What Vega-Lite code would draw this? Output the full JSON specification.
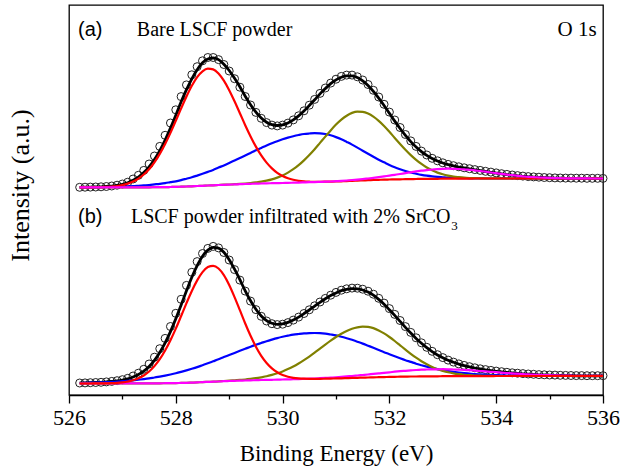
{
  "$schema": "https://vega.github.io/schema/vega-lite/v6.json",
  "width": 534,
  "height": 390,
  "autosize": {"type": "none"},
  "padding": {"left": 69, "top": 5, "right": 18, "bottom": 77},
  "background": "white",
  "config": {
    "view": {"stroke": "#000000", "strokeWidth": 1.3},
    "font": "Liberation Serif, DejaVu Serif, serif"
  },
  "datasets": {
    "spectra": [
      {"p":"a","E":526.2,"r":207.6,"b":207.7,"g":207.6,"m":207.6,"f":207.7,"o":207.7},
      {"p":"a","E":526.3,"r":207.6,"b":207.7,"g":207.6,"m":207.6,"f":207.8,"o":207.8},
      {"p":"a","E":526.4,"r":207.7,"b":207.8,"g":207.6,"m":207.6,"f":207.9,"o":207.9},
      {"p":"a","E":526.5,"r":207.8,"b":207.8,"g":207.6,"m":207.6,"f":208.0,"o":208.0},
      {"p":"a","E":526.6,"r":207.9,"b":207.9,"g":207.6,"m":207.6,"f":208.2,"o":208.2},
      {"p":"a","E":526.7,"r":208.1,"b":208.0,"g":207.6,"m":207.6,"f":208.5,"o":208.5},
      {"p":"a","E":526.8,"r":208.5,"b":208.1,"g":207.6,"m":207.6,"f":208.9,"o":209.0},
      {"p":"a","E":526.9,"r":209.0,"b":208.2,"g":207.6,"m":207.6,"f":209.7,"o":209.8},
      {"p":"a","E":527.0,"r":210.0,"b":208.4,"g":207.6,"m":207.6,"f":210.7,"o":211.0},
      {"p":"a","E":527.1,"r":211.4,"b":208.6,"g":207.6,"m":207.6,"f":212.3,"o":212.8},
      {"p":"a","E":527.2,"r":213.4,"b":208.8,"g":207.6,"m":207.6,"f":214.7,"o":216.0},
      {"p":"a","E":527.3,"r":216.4,"b":209.2,"g":207.7,"m":207.7,"f":217.9,"o":219.7},
      {"p":"a","E":527.4,"r":220.5,"b":209.6,"g":207.7,"m":207.7,"f":222.4,"o":224.6},
      {"p":"a","E":527.5,"r":225.8,"b":210.0,"g":207.7,"m":207.7,"f":228.1,"o":231.0},
      {"p":"a","E":527.6,"r":232.7,"b":210.6,"g":207.8,"m":207.8,"f":235.5,"o":239.0},
      {"p":"a","E":527.7,"r":241.1,"b":211.2,"g":207.9,"m":207.9,"f":244.4,"o":248.6},
      {"p":"a","E":527.8,"r":250.9,"b":211.9,"g":207.9,"m":207.9,"f":254.9,"o":259.7},
      {"p":"a","E":527.9,"r":262.1,"b":212.8,"g":208.0,"m":208.0,"f":266.9,"o":272.0},
      {"p":"a","E":528.0,"r":274.2,"b":213.7,"g":208.1,"m":208.1,"f":279.8,"o":285.2},
      {"p":"a","E":528.1,"r":286.6,"b":214.9,"g":208.3,"m":208.3,"f":293.2,"o":298.4},
      {"p":"a","E":528.2,"r":298.5,"b":216.3,"g":208.5,"m":208.5,"f":305.3,"o":310.1},
      {"p":"a","E":528.3,"r":309.2,"b":217.7,"g":208.7,"m":208.7,"f":316.2,"o":320.2},
      {"p":"a","E":528.4,"r":317.9,"b":219.4,"g":209.0,"m":209.0,"f":325.3,"o":328.3},
      {"p":"a","E":528.5,"r":323.7,"b":221.2,"g":209.2,"m":209.2,"f":332.2,"o":334.2},
      {"p":"a","E":528.6,"r":326.4,"b":223.1,"g":209.5,"m":209.5,"f":336.0,"o":337.5},
      {"p":"a","E":528.7,"r":325.6,"b":225.1,"g":209.7,"m":209.7,"f":337.0,"o":337.5},
      {"p":"a","E":528.8,"r":321.5,"b":227.4,"g":210.0,"m":210.0,"f":335.4,"o":335.4},
      {"p":"a","E":528.9,"r":314.3,"b":229.6,"g":210.3,"m":210.2,"f":330.8,"o":330.5},
      {"p":"a","E":529.0,"r":304.8,"b":232.0,"g":210.5,"m":210.4,"f":324.5,"o":324.0},
      {"p":"a","E":529.1,"r":293.7,"b":234.5,"g":210.8,"m":210.6,"f":316.8,"o":316.3},
      {"p":"a","E":529.2,"r":281.8,"b":237.0,"g":211.1,"m":210.8,"f":308.3,"o":307.8},
      {"p":"a","E":529.3,"r":269.8,"b":239.5,"g":211.5,"m":211.0,"f":298.8,"o":298.5},
      {"p":"a","E":529.4,"r":258.6,"b":242.1,"g":212.0,"m":211.2,"f":290.3,"o":290.0},
      {"p":"a","E":529.5,"r":248.4,"b":244.7,"g":212.6,"m":211.4,"f":282.9,"o":282.6},
      {"p":"a","E":529.6,"r":239.6,"b":247.1,"g":213.3,"m":211.5,"f":277.0,"o":276.7},
      {"p":"a","E":529.7,"r":232.4,"b":249.5,"g":214.3,"m":211.7,"f":272.8,"o":272.4},
      {"p":"a","E":529.8,"r":226.6,"b":251.7,"g":215.6,"m":211.8,"f":270.3,"o":269.9},
      {"p":"a","E":529.9,"r":222.1,"b":253.8,"g":217.4,"m":211.9,"f":269.5,"o":269.1},
      {"p":"a","E":530.0,"r":218.9,"b":255.7,"g":219.6,"m":212.0,"f":270.2,"o":269.9},
      {"p":"a","E":530.1,"r":216.7,"b":257.4,"g":222.4,"m":212.2,"f":272.1,"o":271.9},
      {"p":"a","E":530.2,"r":215.2,"b":258.8,"g":225.8,"m":212.3,"f":275.2,"o":275.1},
      {"p":"a","E":530.3,"r":214.2,"b":260.0,"g":229.8,"m":212.4,"f":279.2,"o":279.2},
      {"p":"a","E":530.4,"r":213.6,"b":261.0,"g":234.6,"m":212.6,"f":284.0,"o":284.2},
      {"p":"a","E":530.5,"r":213.3,"b":261.5,"g":240.0,"m":212.8,"f":289.5,"o":289.8},
      {"p":"a","E":530.6,"r":213.1,"b":261.8,"g":245.8,"m":212.9,"f":295.2,"o":295.6},
      {"p":"a","E":530.7,"r":213.2,"b":261.7,"g":252.1,"m":213.1,"f":301.1,"o":301.6},
      {"p":"a","E":530.8,"r":213.3,"b":261.0,"g":258.4,"m":213.3,"f":306.4,"o":307.0},
      {"p":"a","E":530.9,"r":213.4,"b":259.7,"g":264.6,"m":213.5,"f":311.3,"o":311.9},
      {"p":"a","E":531.0,"r":213.5,"b":257.9,"g":270.4,"m":213.8,"f":315.1,"o":315.8},
      {"p":"a","E":531.1,"r":213.7,"b":255.7,"g":275.4,"m":214.1,"f":317.8,"o":318.6},
      {"p":"a","E":531.2,"r":213.9,"b":253.1,"g":279.3,"m":214.5,"f":319.1,"o":319.9},
      {"p":"a","E":531.3,"r":214.2,"b":250.4,"g":282.1,"m":215.0,"f":319.1,"o":319.9},
      {"p":"a","E":531.4,"r":214.4,"b":247.4,"g":283.4,"m":215.4,"f":317.4,"o":318.2},
      {"p":"a","E":531.5,"r":214.6,"b":244.3,"g":283.1,"m":215.9,"f":314.1,"o":315.0},
      {"p":"a","E":531.6,"r":214.8,"b":241.2,"g":281.4,"m":216.5,"f":309.5,"o":310.5},
      {"p":"a","E":531.7,"r":215.0,"b":238.2,"g":278.3,"m":217.1,"f":303.6,"o":304.7},
      {"p":"a","E":531.8,"r":215.2,"b":235.3,"g":274.1,"m":217.8,"f":296.8,"o":298.0},
      {"p":"a","E":531.9,"r":215.4,"b":232.7,"g":269.0,"m":218.6,"f":289.5,"o":290.7},
      {"p":"a","E":532.0,"r":215.5,"b":230.1,"g":263.2,"m":219.4,"f":281.7,"o":282.9},
      {"p":"a","E":532.1,"r":215.6,"b":227.8,"g":257.1,"m":220.2,"f":273.9,"o":275.0},
      {"p":"a","E":532.2,"r":215.7,"b":225.8,"g":251.1,"m":221.0,"f":266.5,"o":267.5},
      {"p":"a","E":532.3,"r":215.8,"b":224.0,"g":245.3,"m":221.9,"f":259.6,"o":260.5},
      {"p":"a","E":532.4,"r":215.9,"b":222.5,"g":239.9,"m":222.7,"f":253.4,"o":254.1},
      {"p":"a","E":532.5,"r":216.0,"b":221.3,"g":235.2,"m":223.6,"f":248.0,"o":248.6},
      {"p":"a","E":532.6,"r":216.1,"b":220.2,"g":231.1,"m":224.3,"f":243.4,"o":243.9},
      {"p":"a","E":532.7,"r":216.1,"b":219.3,"g":227.5,"m":224.9,"f":239.6,"o":240.0},
      {"p":"a","E":532.8,"r":216.2,"b":218.6,"g":224.7,"m":225.5,"f":236.4,"o":236.7},
      {"p":"a","E":532.9,"r":216.2,"b":218.1,"g":222.4,"m":225.9,"f":234.0,"o":234.2},
      {"p":"a","E":533.0,"r":216.3,"b":217.7,"g":220.7,"m":226.2,"f":232.0,"o":232.2},
      {"p":"a","E":533.1,"r":216.3,"b":217.3,"g":219.4,"m":226.3,"f":230.4,"o":230.6},
      {"p":"a","E":533.2,"r":216.3,"b":217.1,"g":218.4,"m":226.2,"f":229.1,"o":229.3},
      {"p":"a","E":533.3,"r":216.4,"b":216.9,"g":217.8,"m":226.0,"f":228.0,"o":228.2},
      {"p":"a","E":533.4,"r":216.4,"b":216.8,"g":217.3,"m":225.7,"f":227.0,"o":227.2},
      {"p":"a","E":533.5,"r":216.4,"b":216.7,"g":217.0,"m":225.2,"f":226.1,"o":226.3},
      {"p":"a","E":533.6,"r":216.5,"b":216.6,"g":216.8,"m":224.7,"f":225.2,"o":225.4},
      {"p":"a","E":533.7,"r":216.5,"b":216.6,"g":216.7,"m":224.0,"f":224.4,"o":224.6},
      {"p":"a","E":533.8,"r":216.5,"b":216.5,"g":216.6,"m":223.3,"f":223.5,"o":223.7},
      {"p":"a","E":533.9,"r":216.5,"b":216.5,"g":216.5,"m":222.5,"f":222.7,"o":222.9},
      {"p":"a","E":534.0,"r":216.5,"b":216.5,"g":216.6,"m":221.8,"f":221.9,"o":222.1},
      {"p":"a","E":534.1,"r":216.5,"b":216.5,"g":216.5,"m":221.1,"f":221.1,"o":221.3},
      {"p":"a","E":534.2,"r":216.5,"b":216.5,"g":216.5,"m":220.4,"f":220.4,"o":220.6},
      {"p":"a","E":534.3,"r":216.5,"b":216.5,"g":216.5,"m":219.8,"f":219.8,"o":220.0},
      {"p":"a","E":534.4,"r":216.5,"b":216.5,"g":216.5,"m":219.2,"f":219.2,"o":219.4},
      {"p":"a","E":534.5,"r":216.5,"b":216.5,"g":216.5,"m":218.7,"f":218.7,"o":218.9},
      {"p":"a","E":534.6,"r":216.5,"b":216.5,"g":216.5,"m":218.2,"f":218.2,"o":218.4},
      {"p":"a","E":534.7,"r":216.5,"b":216.5,"g":216.5,"m":217.9,"f":217.9,"o":218.1},
      {"p":"a","E":534.8,"r":216.5,"b":216.5,"g":216.5,"m":217.6,"f":217.6,"o":217.8},
      {"p":"a","E":534.9,"r":216.5,"b":216.5,"g":216.5,"m":217.3,"f":217.3,"o":217.5},
      {"p":"a","E":535.0,"r":216.5,"b":216.5,"g":216.5,"m":217.1,"f":217.1,"o":217.3},
      {"p":"a","E":535.1,"r":216.5,"b":216.5,"g":216.5,"m":216.9,"f":216.9,"o":217.1},
      {"p":"a","E":535.2,"r":216.5,"b":216.5,"g":216.5,"m":216.8,"f":216.8,"o":217.0},
      {"p":"a","E":535.3,"r":216.5,"b":216.5,"g":216.5,"m":216.7,"f":216.7,"o":216.9},
      {"p":"a","E":535.4,"r":216.5,"b":216.5,"g":216.5,"m":216.7,"f":216.7,"o":216.9},
      {"p":"a","E":535.5,"r":216.5,"b":216.5,"g":216.5,"m":216.6,"f":216.6,"o":216.8},
      {"p":"a","E":535.6,"r":216.5,"b":216.5,"g":216.5,"m":216.6,"f":216.6,"o":216.8},
      {"p":"a","E":535.7,"r":216.5,"b":216.5,"g":216.5,"m":216.6,"f":216.6,"o":216.7},
      {"p":"a","E":535.8,"r":216.5,"b":216.5,"g":216.5,"m":216.5,"f":216.5,"o":216.7},
      {"p":"a","E":535.9,"r":216.5,"b":216.5,"g":216.5,"m":216.5,"f":216.5,"o":216.7},
      {"p":"a","E":536.0,"r":216.5,"b":216.5,"g":216.5,"m":216.5,"f":216.5,"o":216.6},
      {"p":"b","E":526.2,"r":11.5,"b":12.0,"g":11.5,"m":11.5,"f":12.0,"o":12.0},
      {"p":"b","E":526.3,"r":11.5,"b":12.1,"g":11.5,"m":11.5,"f":12.1,"o":12.1},
      {"p":"b","E":526.4,"r":11.5,"b":12.3,"g":11.5,"m":11.5,"f":12.3,"o":12.3},
      {"p":"b","E":526.5,"r":11.6,"b":12.4,"g":11.5,"m":11.5,"f":12.5,"o":12.5},
      {"p":"b","E":526.6,"r":11.6,"b":12.6,"g":11.5,"m":11.5,"f":12.7,"o":12.7},
      {"p":"b","E":526.7,"r":11.7,"b":12.9,"g":11.5,"m":11.5,"f":13.0,"o":13.1},
      {"p":"b","E":526.8,"r":11.9,"b":13.1,"g":11.5,"m":11.5,"f":13.5,"o":13.6},
      {"p":"b","E":526.9,"r":12.2,"b":13.4,"g":11.5,"m":11.5,"f":14.1,"o":14.3},
      {"p":"b","E":527.0,"r":12.7,"b":13.8,"g":11.5,"m":11.5,"f":15.0,"o":15.3},
      {"p":"b","E":527.1,"r":13.5,"b":14.2,"g":11.5,"m":11.5,"f":16.2,"o":16.7},
      {"p":"b","E":527.2,"r":14.8,"b":14.7,"g":11.6,"m":11.6,"f":18.0,"o":19.0},
      {"p":"b","E":527.3,"r":16.7,"b":15.3,"g":11.6,"m":11.6,"f":20.5,"o":21.8},
      {"p":"b","E":527.4,"r":19.5,"b":15.9,"g":11.6,"m":11.6,"f":23.9,"o":25.7},
      {"p":"b","E":527.5,"r":23.5,"b":16.6,"g":11.6,"m":11.6,"f":28.5,"o":31.0},
      {"p":"b","E":527.6,"r":28.9,"b":17.5,"g":11.7,"m":11.7,"f":34.7,"o":37.8},
      {"p":"b","E":527.7,"r":35.8,"b":18.4,"g":11.7,"m":11.7,"f":42.5,"o":46.3},
      {"p":"b","E":527.8,"r":44.5,"b":19.4,"g":11.8,"m":11.8,"f":52.1,"o":56.6},
      {"p":"b","E":527.9,"r":54.8,"b":20.5,"g":11.9,"m":11.9,"f":63.4,"o":68.5},
      {"p":"b","E":528.0,"r":66.4,"b":21.7,"g":11.9,"m":11.9,"f":76.2,"o":81.7},
      {"p":"b","E":528.1,"r":79.0,"b":23.1,"g":12.1,"m":12.1,"f":90.0,"o":95.7},
      {"p":"b","E":528.2,"r":91.8,"b":24.6,"g":12.2,"m":12.2,"f":104.2,"o":109.6},
      {"p":"b","E":528.3,"r":104.0,"b":26.2,"g":12.4,"m":12.4,"f":117.8,"o":122.7},
      {"p":"b","E":528.4,"r":114.6,"b":27.9,"g":12.6,"m":12.6,"f":129.4,"o":133.4},
      {"p":"b","E":528.5,"r":122.9,"b":29.8,"g":12.9,"m":12.9,"f":138.8,"o":141.5},
      {"p":"b","E":528.6,"r":127.9,"b":31.7,"g":13.1,"m":13.1,"f":144.8,"o":146.6},
      {"p":"b","E":528.7,"r":129.2,"b":33.7,"g":13.3,"m":13.3,"f":147.6,"o":148.6},
      {"p":"b","E":528.8,"r":126.5,"b":35.7,"g":13.6,"m":13.5,"f":146.8,"o":147.1},
      {"p":"b","E":528.9,"r":119.9,"b":37.9,"g":14.0,"m":13.8,"f":142.7,"o":142.5},
      {"p":"b","E":529.0,"r":110.0,"b":40.0,"g":14.3,"m":14.0,"f":135.3,"o":135.0},
      {"p":"b","E":529.1,"r":97.9,"b":42.1,"g":14.7,"m":14.2,"f":125.8,"o":125.4},
      {"p":"b","E":529.2,"r":84.8,"b":44.2,"g":15.1,"m":14.4,"f":115.3,"o":114.9},
      {"p":"b","E":529.3,"r":71.5,"b":46.2,"g":15.5,"m":14.5,"f":104.2,"o":103.9},
      {"p":"b","E":529.4,"r":59.2,"b":48.3,"g":16.1,"m":14.7,"f":94.2,"o":93.9},
      {"p":"b","E":529.5,"r":48.3,"b":50.2,"g":16.8,"m":14.8,"f":85.7,"o":85.4},
      {"p":"b","E":529.6,"r":39.1,"b":52.0,"g":17.7,"m":15.0,"f":79.0,"o":78.7},
      {"p":"b","E":529.7,"r":32.0,"b":53.8,"g":18.7,"m":15.1,"f":74.4,"o":74.0},
      {"p":"b","E":529.8,"r":26.6,"b":55.4,"g":20.1,"m":15.2,"f":71.7,"o":71.3},
      {"p":"b","E":529.9,"r":22.7,"b":56.9,"g":21.7,"m":15.3,"f":70.7,"o":70.4},
      {"p":"b","E":530.0,"r":20.0,"b":58.2,"g":23.6,"m":15.5,"f":71.1,"o":70.8},
      {"p":"b","E":530.1,"r":18.3,"b":59.3,"g":25.9,"m":15.6,"f":72.6,"o":72.4},
      {"p":"b","E":530.2,"r":17.2,"b":60.3,"g":28.5,"m":15.8,"f":75.0,"o":74.9},
      {"p":"b","E":530.3,"r":16.6,"b":61.0,"g":31.5,"m":15.9,"f":77.9,"o":77.9},
      {"p":"b","E":530.4,"r":16.3,"b":61.6,"g":34.8,"m":16.1,"f":81.4,"o":81.5},
      {"p":"b","E":530.5,"r":16.2,"b":61.9,"g":38.4,"m":16.3,"f":85.0,"o":85.2},
      {"p":"b","E":530.6,"r":16.2,"b":62.0,"g":42.3,"m":16.5,"f":88.9,"o":89.2},
      {"p":"b","E":530.7,"r":16.2,"b":61.8,"g":46.4,"m":16.8,"f":92.7,"o":93.0},
      {"p":"b","E":530.8,"r":16.3,"b":61.3,"g":50.4,"m":17.1,"f":96.2,"o":96.6},
      {"p":"b","E":530.9,"r":16.4,"b":60.5,"g":54.3,"m":17.4,"f":99.4,"o":99.8},
      {"p":"b","E":531.0,"r":16.6,"b":59.6,"g":58.0,"m":17.7,"f":102.1,"o":102.6},
      {"p":"b","E":531.1,"r":16.7,"b":58.3,"g":61.3,"m":18.1,"f":104.3,"o":104.8},
      {"p":"b","E":531.2,"r":16.9,"b":56.8,"g":64.1,"m":18.6,"f":105.7,"o":106.2},
      {"p":"b","E":531.3,"r":17.1,"b":55.2,"g":66.3,"m":19.0,"f":106.3,"o":106.9},
      {"p":"b","E":531.4,"r":17.2,"b":53.3,"g":67.7,"m":19.5,"f":106.1,"o":106.8},
      {"p":"b","E":531.5,"r":17.4,"b":51.4,"g":68.4,"m":20.0,"f":105.0,"o":105.8},
      {"p":"b","E":531.6,"r":17.5,"b":49.3,"g":68.1,"m":20.5,"f":102.9,"o":103.8},
      {"p":"b","E":531.7,"r":17.7,"b":47.2,"g":66.9,"m":21.1,"f":99.8,"o":100.8},
      {"p":"b","E":531.8,"r":17.8,"b":45.0,"g":64.6,"m":21.6,"f":95.6,"o":96.7},
      {"p":"b","E":531.9,"r":17.9,"b":42.8,"g":61.6,"m":22.2,"f":90.8,"o":91.9},
      {"p":"b","E":532.0,"r":18.1,"b":40.8,"g":58.0,"m":22.7,"f":85.3,"o":86.4},
      {"p":"b","E":532.1,"r":18.2,"b":38.7,"g":54.0,"m":23.3,"f":79.6,"o":80.6},
      {"p":"b","E":532.2,"r":18.3,"b":36.7,"g":49.7,"m":23.8,"f":73.6,"o":74.5},
      {"p":"b","E":532.3,"r":18.4,"b":34.8,"g":45.4,"m":24.2,"f":67.6,"o":68.4},
      {"p":"b","E":532.4,"r":18.5,"b":33.1,"g":41.2,"m":24.6,"f":61.9,"o":62.6},
      {"p":"b","E":532.5,"r":18.5,"b":31.3,"g":37.3,"m":25.0,"f":56.6,"o":57.2},
      {"p":"b","E":532.6,"r":18.6,"b":29.8,"g":33.8,"m":25.3,"f":51.7,"o":52.2},
      {"p":"b","E":532.7,"r":18.7,"b":28.4,"g":30.7,"m":25.5,"f":47.3,"o":47.7},
      {"p":"b","E":532.8,"r":18.7,"b":27.1,"g":28.0,"m":25.7,"f":43.4,"o":43.7},
      {"p":"b","E":532.9,"r":18.7,"b":25.9,"g":25.8,"m":25.7,"f":40.0,"o":40.3},
      {"p":"b","E":533.0,"r":18.8,"b":24.9,"g":24.1,"m":25.8,"f":37.2,"o":37.4},
      {"p":"b","E":533.1,"r":18.8,"b":24.0,"g":22.7,"m":25.7,"f":34.7,"o":34.9},
      {"p":"b","E":533.2,"r":18.8,"b":23.2,"g":21.6,"m":25.5,"f":32.7,"o":32.9},
      {"p":"b","E":533.3,"r":18.9,"b":22.5,"g":20.8,"m":25.3,"f":30.9,"o":31.1},
      {"p":"b","E":533.4,"r":18.9,"b":21.9,"g":20.2,"m":25.1,"f":29.4,"o":29.6},
      {"p":"b","E":533.5,"r":18.9,"b":21.4,"g":19.8,"m":24.8,"f":28.1,"o":28.3},
      {"p":"b","E":533.6,"r":18.9,"b":20.9,"g":19.5,"m":24.4,"f":27.0,"o":27.2},
      {"p":"b","E":533.7,"r":18.9,"b":20.6,"g":19.3,"m":24.0,"f":26.0,"o":26.2},
      {"p":"b","E":533.8,"r":18.9,"b":20.3,"g":19.2,"m":23.6,"f":25.2,"o":25.4},
      {"p":"b","E":533.9,"r":18.9,"b":20.0,"g":19.1,"m":23.2,"f":24.4,"o":24.6},
      {"p":"b","E":534.0,"r":19.0,"b":19.8,"g":19.0,"m":22.8,"f":23.7,"o":23.9},
      {"p":"b","E":534.1,"r":19.0,"b":19.6,"g":19.0,"m":22.4,"f":23.1,"o":23.3},
      {"p":"b","E":534.2,"r":19.0,"b":19.5,"g":19.0,"m":22.0,"f":22.5,"o":22.7},
      {"p":"b","E":534.3,"r":19.0,"b":19.4,"g":19.0,"m":21.6,"f":22.0,"o":22.2},
      {"p":"b","E":534.4,"r":19.0,"b":19.3,"g":19.0,"m":21.3,"f":21.6,"o":21.8},
      {"p":"b","E":534.5,"r":19.0,"b":19.2,"g":19.0,"m":20.9,"f":21.2,"o":21.4},
      {"p":"b","E":534.6,"r":19.0,"b":19.2,"g":19.0,"m":20.6,"f":20.8,"o":21.0},
      {"p":"b","E":534.7,"r":19.0,"b":19.1,"g":19.0,"m":20.4,"f":20.5,"o":20.7},
      {"p":"b","E":534.8,"r":19.0,"b":19.1,"g":19.0,"m":20.1,"f":20.2,"o":20.4},
      {"p":"b","E":534.9,"r":19.0,"b":19.1,"g":19.0,"m":19.9,"f":20.0,"o":20.2},
      {"p":"b","E":535.0,"r":19.0,"b":19.1,"g":19.0,"m":19.8,"f":19.8,"o":20.0},
      {"p":"b","E":535.1,"r":19.0,"b":19.0,"g":19.0,"m":19.6,"f":19.7,"o":19.9},
      {"p":"b","E":535.2,"r":19.0,"b":19.0,"g":19.0,"m":19.5,"f":19.5,"o":19.7},
      {"p":"b","E":535.3,"r":19.0,"b":19.0,"g":19.0,"m":19.4,"f":19.4,"o":19.6},
      {"p":"b","E":535.4,"r":19.0,"b":19.0,"g":19.0,"m":19.3,"f":19.3,"o":19.5},
      {"p":"b","E":535.5,"r":19.0,"b":19.0,"g":19.0,"m":19.2,"f":19.2,"o":19.4},
      {"p":"b","E":535.6,"r":19.0,"b":19.0,"g":19.0,"m":19.2,"f":19.2,"o":19.4},
      {"p":"b","E":535.7,"r":19.0,"b":19.0,"g":19.0,"m":19.1,"f":19.1,"o":19.3},
      {"p":"b","E":535.8,"r":19.0,"b":19.0,"g":19.0,"m":19.1,"f":19.1,"o":19.3},
      {"p":"b","E":535.9,"r":19.0,"b":19.0,"g":19.0,"m":19.1,"f":19.1,"o":19.3},
      {"p":"b","E":536.0,"r":19.0,"b":19.0,"g":19.0,"m":19.1,"f":19.1,"o":19.3}
    ],
    "notes": [
      {"k": "pa", "t": "(a)"},
      {"k": "ta", "t": "Bare LSCF powder"},
      {"k": "o1s", "t": "O 1s"},
      {"k": "pb", "t": "(b)"},
      {"k": "tb", "t": "LSCF powder infiltrated with 2% SrCO"},
      {"k": "sub", "t": "3"}
    ]
  },
  "layer": [
    {
      "data": {"name": "spectra"},
      "transform": [
        {"fold": ["o", "f", "r", "b", "g", "m"], "as": ["s", "I"]}
      ],
      "encoding": {
        "x": {
          "field": "E",
          "type": "quantitative",
          "scale": {"domain": [526, 536], "nice": false, "zero": false},
          "axis": {
            "title": "Binding Energy (eV)",
            "values": [526, 527, 528, 529, 530, 531, 532, 533, 534, 535, 536],
            "labelExpr": "datum.value % 2 === 0 ? datum.label : ''",
            "tickSize": {"condition": {"test": "datum.value % 2 === 0", "value": 8}, "value": 4},
            "tickColor": "#000000",
            "tickWidth": 1.3,
            "domainColor": "#000000",
            "domainWidth": 1.3,
            "grid": false,
            "labelFont": "Liberation Serif, DejaVu Serif, serif",
            "labelFontSize": 22,
            "labelColor": "#000000",
            "labelPadding": 4,
            "labelFlush": false,
            "labelOverlap": false,
            "titleFont": "Liberation Serif, DejaVu Serif, serif",
            "titleFontSize": 23,
            "titleFontWeight": "normal",
            "titleColor": "#000000",
            "titlePadding": 14
          }
        },
        "y": {
          "field": "I",
          "type": "quantitative",
          "scale": {"domain": [0, 390], "nice": false, "zero": false},
          "axis": {
            "title": "Intensity (a.u.)",
            "labels": false,
            "ticks": false,
            "domain": false,
            "grid": false,
            "titleFont": "Liberation Serif, DejaVu Serif, serif",
            "titleFontSize": 26,
            "titleFontWeight": "normal",
            "titleColor": "#000000",
            "titlePadding": 36,
            "titleY": 180
          }
        },
        "detail": {"field": "p", "type": "nominal"}
      },
      "layer": [
        {
          "transform": [{"filter": "datum.s === 'o'"}],
          "mark": {"type": "point", "shape": "circle", "filled": false, "size": 64, "stroke": "#222222", "strokeWidth": 1, "opacity": 1}
        },
        {
          "transform": [{"filter": "datum.s === 'f'"}],
          "mark": {"type": "line", "color": "#000000", "strokeWidth": 2.8, "interpolate": "monotone"}
        },
        {
          "transform": [{"filter": "datum.s === 'b'"}],
          "mark": {"type": "line", "color": "#0000ff", "strokeWidth": 2.2, "interpolate": "monotone"}
        },
        {
          "transform": [{"filter": "datum.s === 'g'"}],
          "mark": {"type": "line", "color": "#808000", "strokeWidth": 2.2, "interpolate": "monotone"}
        },
        {
          "transform": [{"filter": "datum.s === 'm' && datum.p === 'b'"}],
          "mark": {"type": "line", "color": "#ff00ff", "strokeWidth": 2.2, "interpolate": "monotone"}
        },
        {
          "transform": [{"filter": "datum.s === 'r'"}],
          "mark": {"type": "line", "color": "#ff0000", "strokeWidth": 2.2, "interpolate": "monotone"}
        },
        {
          "transform": [{"filter": "datum.s === 'm' && datum.p === 'a'"}],
          "mark": {"type": "line", "color": "#ff00ff", "strokeWidth": 2.2, "interpolate": "monotone"}
        }
      ]
    },
    {
      "data": {"name": "notes"},
      "transform": [{"filter": "datum.k === 'pa'"}],
      "mark": {"type": "text", "font": "Liberation Sans, Arial, sans-serif", "fontSize": 20, "align": "left", "baseline": "middle", "color": "#000000"},
      "encoding": {"x": {"datum": 526.17}, "y": {"datum": 365}, "text": {"field": "t"}}
    },
    {
      "data": {"name": "notes"},
      "transform": [{"filter": "datum.k === 'ta'"}],
      "mark": {"type": "text", "font": "Liberation Serif, DejaVu Serif, serif", "fontSize": 20, "align": "left", "baseline": "middle", "color": "#000000"},
      "encoding": {"x": {"datum": 527.27}, "y": {"datum": 365}, "text": {"field": "t"}}
    },
    {
      "data": {"name": "notes"},
      "transform": [{"filter": "datum.k === 'o1s'"}],
      "mark": {"type": "text", "font": "Liberation Serif, DejaVu Serif, serif", "fontSize": 21, "align": "right", "baseline": "middle", "color": "#000000"},
      "encoding": {"x": {"datum": 535.88}, "y": {"datum": 365}, "text": {"field": "t"}}
    },
    {
      "data": {"name": "notes"},
      "transform": [{"filter": "datum.k === 'pb'"}],
      "mark": {"type": "text", "font": "Liberation Sans, Arial, sans-serif", "fontSize": 20, "align": "left", "baseline": "middle", "color": "#000000"},
      "encoding": {"x": {"datum": 526.17}, "y": {"datum": 178}, "text": {"field": "t"}}
    },
    {
      "data": {"name": "notes"},
      "transform": [{"filter": "datum.k === 'tb'"}],
      "mark": {"type": "text", "font": "Liberation Serif, DejaVu Serif, serif", "fontSize": 20, "align": "left", "baseline": "middle", "color": "#000000"},
      "encoding": {"x": {"datum": 527.16}, "y": {"datum": 178}, "text": {"field": "t"}}
    },
    {
      "data": {"name": "notes"},
      "transform": [{"filter": "datum.k === 'sub'"}],
      "mark": {"type": "text", "font": "Liberation Serif, DejaVu Serif, serif", "fontSize": 13, "align": "left", "baseline": "middle", "color": "#000000"},
      "encoding": {"x": {"datum": 533.16}, "y": {"datum": 169}, "text": {"field": "t"}}
    }
  ]
}
